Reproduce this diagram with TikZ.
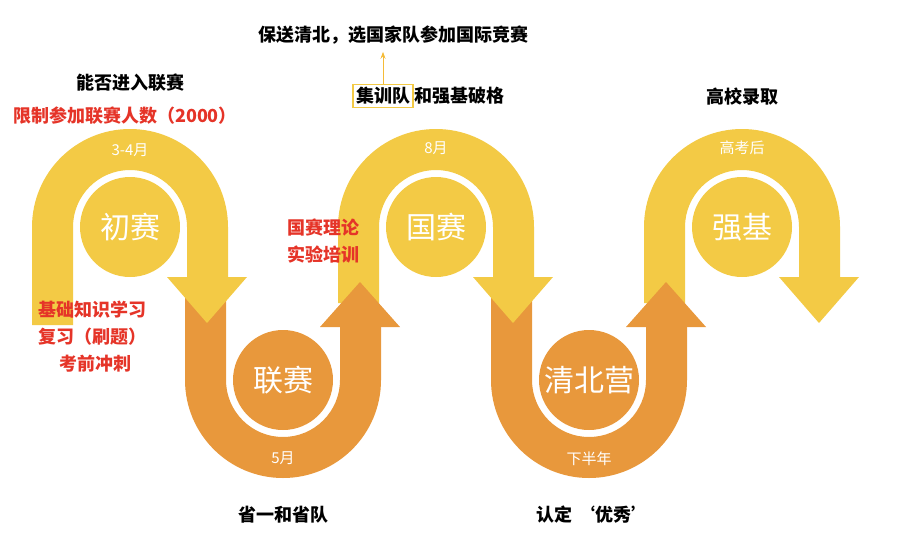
\documentclass[tikz,border=0pt]{standalone}
\usepackage{fontspec}
\setmainfont{Noto Sans CJK SC}
\usetikzlibrary{positioning,arrows.meta}
\definecolor{gold}{HTML}{F3CA45}
\definecolor{amber}{HTML}{E8983C}
\definecolor{redtxt}{HTML}{E53428}
\tikzset{
	stage/.style={circle,minimum size=100pt,inner sep=0pt,text=white,font=\fontsize{30}{30}\selectfont},
	when/.style={text=white,font=\fontsize{15}{15}\selectfont},
	head/.style={font=\bfseries\fontsize{18}{20}\selectfont},
	note/.style={text=redtxt,font=\bfseries\fontsize{18}{27}\selectfont}
}
\begin{document}
\begin{tikzpicture}[x=1pt,y=-1pt]
	\useasboundingbox (0,0) rectangle (901,555);
	% lower bands (orange)
	\foreach \cx in {283,589} {
		\fill [amber] (\cx-98,290) -- (\cx-98,380) arc (180:0:98) -- (\cx+98,327) -- (\cx+57,327) -- (\cx+57,380) arc (0:180:57) -- (\cx-57,290) -- cycle;
	}
	% upper bands (yellow)
	\fill [gold] (32,325) -- (32,227) arc (180:360:98) -- (228,277) -- (187,277) -- (187,227) arc (360:180:57) -- (73,325) -- cycle;
	\foreach \cx in {436,742} {
		\fill [gold] (\cx-98,303) -- (\cx-98,227) arc (180:360:98) -- (\cx+98,277) -- (\cx+57,277) -- (\cx+57,227) arc (360:180:57) -- (\cx-57,303) -- cycle;
	}
	% arrow heads
	\foreach \cx in {130,436,742}
		\fill [gold] (\cx+37,277) -- (\cx+117,277) -- (\cx+77,323) -- cycle;
	\foreach \cx in {283,589}
		\fill [amber] (\cx+37,327) -- (\cx+117,327) -- (\cx+77,282) -- cycle;
	% stages
	\node [stage,fill=gold] (chu) at (130,227) {初赛};
	\node [stage,fill=amber] (lian) at (283,380) {联赛};
	\node [stage,fill=gold] (guo) at (436,227) {国赛};
	\node [stage,fill=amber] (qb) at (589,380) {清北营};
	\node [stage,fill=gold] (qj) at (742,227) {强基};
	\node [when] (t1) at (130,150) {3-4月};
	\node [when] (t2) at (283,458) {5月};
	\node [when] (t3) at (436,148) {8月};
	\node [when] (t4) at (589,459) {下半年};
	\node [when] (t5) at (742,148) {高考后};
	% labels
	\node [note] (n1) at (125,116) {限制参加联赛人数（2000）};
	\node [head] (q1) at (130,83) {能否进入联赛};
	\node [note,align=left] (n2) at (92,337) {基础知识学习\\复习（刷题）\\\hspace*{1.2em}考前冲刺};
	\node [note,align=left] (n3) at (323,241) {国赛理论\\实验培训};
	\node [head] (q2) at (283,515) {省一和省队};
	\node [head,draw=gold,line width=1.2pt,inner sep=3pt] (jx) at (383,96) {集训队};
	\node [head,right=-3pt of jx] (q3) {和强基破格};
	\node [head] (q4) at (393,35) {保送清北，选国家队参加国际竞赛};
	\coordinate [below=4pt of q4.south-|jx.north] (up);
	\draw [gold!80!orange,line width=1pt,-{Stealth[length=7pt,width=5pt]}] (jx.north) -- (up);
	\node [head] (q5) at (593,515) {认定 ‘优秀’};
	\node [head] (q6) at (742,97) {高校录取};
\end{tikzpicture}
\end{document}
